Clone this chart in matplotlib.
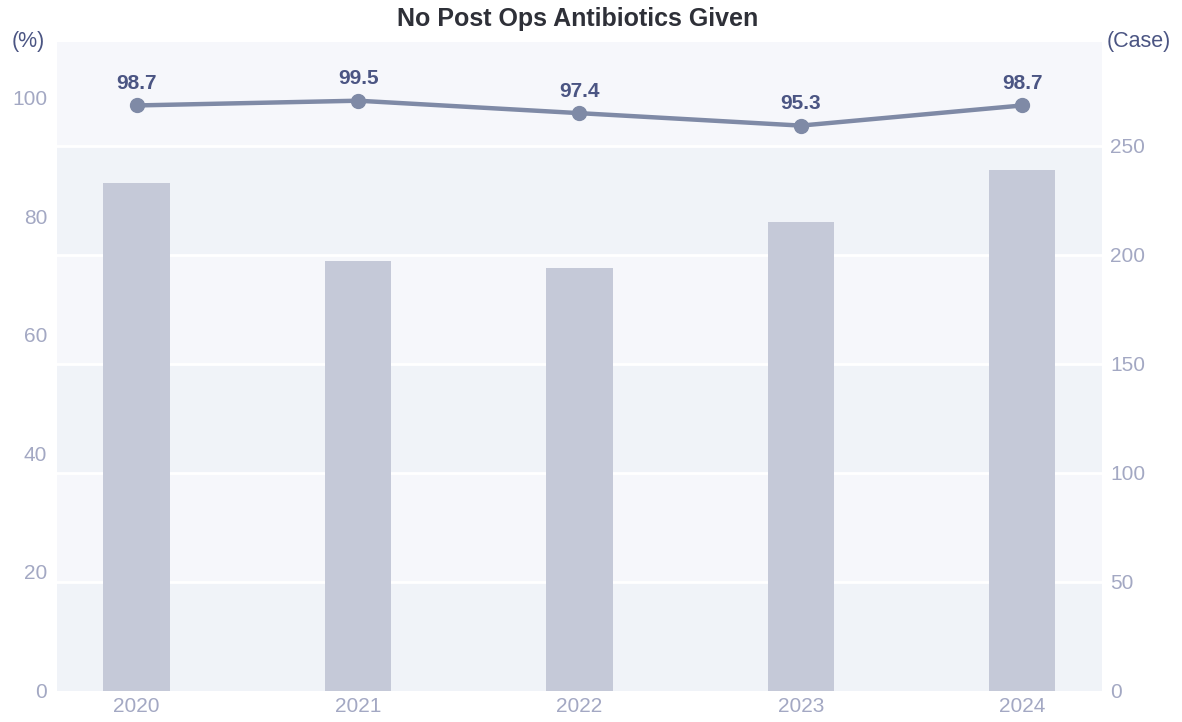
import numpy as np
import matplotlib.pyplot as plt

#=========================================DATA=========================================
years = ['2020', '2021', '2022', '2023', '2024']
cases = [233, 197, 194, 215, 239]
rate = [98.7, 99.5, 97.4, 95.3, 98.7]

plt.rcParams['font.family'] = ['Liberation Sans', 'DejaVu Sans']

tick_col = '#a3a8c3'
lab_col = '#4b5583'

#=========================================PLOT=========================================
fig = plt.figure(figsize=(11.82, 7.22), dpi=100)
ax2 = fig.add_axes([0.0482, 0.0436, 0.9323 - 0.0482, 0.9418 - 0.0436])  # cases, right
ax = ax2.twinx()
ax.yaxis.tick_left()
ax2.yaxis.tick_right()

x = np.arange(len(years))
ax2.set_xlim(-0.36, 4.36)
ax2.set_ylim(0, 297.5)
ax.set_ylim(0, 109.4)

# alternating background bands between right-axis gridlines
edges = [0, 50, 100, 150, 200, 250, 297.5]
for i in range(len(edges) - 1):
    c = '#f0f3f8' if i % 2 == 0 else '#f6f7fb'
    ax2.axhspan(edges[i], edges[i + 1], color=c, zorder=0, lw=0)
for g in edges[1:-1]:
    ax2.axhline(g, color='white', lw=2, zorder=1)

ax2.bar(x, cases, width=0.3, color='#c5c9d8', zorder=2)

ax.plot(x, rate, color='#7f8aa6', lw=3.2, marker='o', markersize=10, zorder=3)
for xi, v in zip(x, rate):
    ax.annotate(f'{v}', (xi, v), xytext=(0, 9), textcoords='offset points',
                ha='center', va='bottom', fontsize=15, fontweight='bold', color=lab_col)

for a in (ax, ax2):
    for s in a.spines.values():
        s.set_visible(False)
    a.tick_params(length=0, labelsize=15, colors=tick_col)

ax2.set_xticks(x)
ax2.set_xticklabels(years)
ax2.tick_params(axis='x', pad=5)
ax.set_yticks([0, 20, 40, 60, 80, 100])
ax2.set_yticks([0, 50, 100, 150, 200, 250])
ax.tick_params(axis='y', pad=7)
ax2.tick_params(axis='y', pad=6)

fig.text(0.489, 0.974, 'No Post Ops Antibiotics Given', ha='center', va='center',
         fontsize=18, fontweight='bold', color='#2e3038')
fig.text(0.024, 0.942, '(%)', ha='center', va='center', fontsize=15.5, color=lab_col)
fig.text(0.963, 0.942, '(Case)', ha='center', va='center', fontsize=15.5, color=lab_col)

fig.savefig('out.png', dpi=100)
